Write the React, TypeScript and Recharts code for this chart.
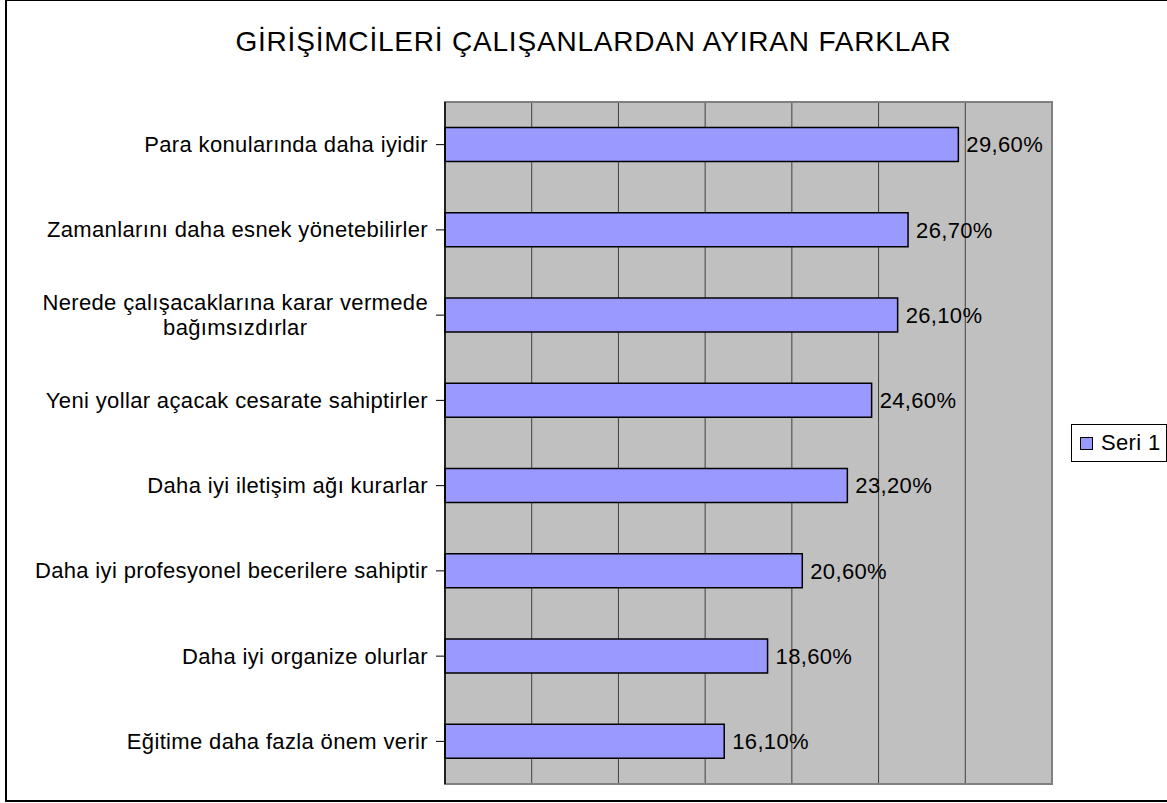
import React from 'react';
import { BarChart, Bar, XAxis, YAxis, CartesianGrid, LabelList, Legend, ReferenceArea, ReferenceLine } from 'recharts';

const title = 'GİRİŞİMCİLERİ ÇALIŞANLARDAN AYIRAN FARKLAR';
const seriesName = 'Seri 1';
const categories = [
  'Para konularında daha iyidir',
  'Zamanlarını daha esnek yönetebilirler',
  'Nerede çalışacaklarına karar vermede bağımsızdırlar',
  'Yeni yollar açacak cesarate sahiptirler',
  'Daha iyi iletişim ağı kurarlar',
  'Daha iyi profesyonel becerilere sahiptir',
  'Daha iyi organize olurlar',
  'Eğitime daha fazla önem verir',
];
const values = [29.6, 26.7, 26.1, 24.6, 23.2, 20.6, 18.6, 16.1];
const xTicks = [0, 5, 10, 15, 20, 25, 30, 35];

const data = categories.map((name, i) => ({ name, value: values[i] }));

const FONT = '"Liberation Sans", Arial, Helvetica, sans-serif';
const LABEL_SIZE = 22;
const LS = 0.35;

let ctx: CanvasRenderingContext2D | null = null;
function measure(text: string): number {
  if (!ctx) ctx = document.createElement('canvas').getContext('2d');
  if (!ctx) return text.length * LABEL_SIZE * 0.5;
  ctx.font = `${LABEL_SIZE}px "Liberation Sans"`;
  return ctx.measureText(text).width + text.length * LS;
}

function wrap(text: string, maxW: number): string[] {
  const words = text.split(' ');
  const lines: string[] = [];
  let cur = '';
  for (const w of words) {
    const t = cur ? cur + ' ' + w : w;
    if (measure(t) > maxW && cur) {
      lines.push(cur);
      cur = w;
    } else cur = t;
  }
  if (cur) lines.push(cur);
  return lines;
}

const CategoryTick = (props: any) => {
  const { x, y, payload } = props;
  const lines = wrap(String(payload.value), 400);
  const widths = lines.map(measure);
  const maxW = Math.max(...widths);
  const right = x - 6;
  const cx = right - maxW / 2;
  const lh = 25;
  const y0 = y - ((lines.length - 1) * lh) / 2;
  return (
    <g>
      {lines.map((l, i) => (
        <text
          key={i}
          x={cx}
          y={y0 + i * lh}
          textAnchor="middle"
          dominantBaseline="central"
          fontFamily={FONT}
          fontSize={LABEL_SIZE}
          letterSpacing={LS}
          fill="#000"
        >
          {l}
        </text>
      ))}
    </g>
  );
};

const fmt = (v: any) => Number(v).toFixed(2).replace('.', ',') + '%';

const LegendContent = () => (
  <div
    style={{
      border: '1px solid #000',
      background: '#fff',
      width: 96,
      height: 38,
      boxSizing: 'border-box',
      display: 'flex',
      alignItems: 'center',
      paddingLeft: 8,
      fontFamily: FONT,
      fontSize: LABEL_SIZE,
      letterSpacing: LS,
      color: '#000',
      whiteSpace: 'nowrap',
    }}
  >
    <span
      style={{
        display: 'inline-block',
        width: 13,
        height: 13,
        boxSizing: 'border-box',
        background: '#9999FF',
        border: '1px solid #000',
        marginRight: 8,
      }}
    />
    <span>{seriesName}</span>
  </div>
);

export default function App() {
  return (
    <div style={{ position: 'absolute', left: 0, top: 0, width: 1167, height: 803, background: '#fff', overflow: 'hidden' }}>
      <div
        style={{
          position: 'absolute',
          left: 5,
          top: -1,
          width: 1200,
          height: 803,
          border: '2px solid #000',
          boxSizing: 'border-box',
        }}
      />
      <div
        style={{
          position: 'absolute',
          left: 0,
          top: 28,
          width: 1187,
          textAlign: 'center',
          fontFamily: FONT,
          fontSize: 28,
          lineHeight: '28px',
          letterSpacing: 0.8,
          color: '#000',
          whiteSpace: 'nowrap',
        }}
      >
        {title}
      </div>
      <div style={{ position: 'absolute', left: 0, top: 0 }}>
        <BarChart
          width={1167}
          height={803}
          data={data}
          layout="vertical"
          margin={{ top: 102, right: 19, bottom: 19, left: 0 }}
          barCategoryGap="30%"
        >
          <CartesianGrid horizontal={false} vertical stroke="#404040" fill="#C0C0C0" fillOpacity={1} />
          <XAxis type="number" domain={[0, 35]} ticks={xTicks} hide />
          <YAxis
            type="category"
            dataKey="name"
            width={445}
            tickSize={9}
            axisLine={{ stroke: '#000', strokeWidth: 1 }}
            tickLine={{ stroke: '#000', strokeWidth: 1 }}
            tick={<CategoryTick />}
            interval={0}
          />
          <ReferenceArea x1={0} x2={35} fill="none" stroke="#808080" strokeWidth={2} ifOverflow="extendDomain" />
          <ReferenceLine x={0} stroke="#000" strokeWidth={1} />
          <Bar dataKey="value" name={seriesName} fill="#9999FF" stroke="#000" strokeWidth={1.5} isAnimationActive={false}>
            <LabelList
              dataKey="value"
              position="right"
              offset={8}
              formatter={fmt}
              fill="#000"
              fontFamily={FONT}
              fontSize={LABEL_SIZE}
              letterSpacing={LS}
            />
          </Bar>
          <Legend
            layout="horizontal"
            verticalAlign="middle"
            align="right"
            content={<LegendContent />}
            wrapperStyle={{ position: 'absolute', left: 1071, top: 424, width: 'auto', height: 'auto' }}
          />
        </BarChart>
      </div>
    </div>
  );
}
